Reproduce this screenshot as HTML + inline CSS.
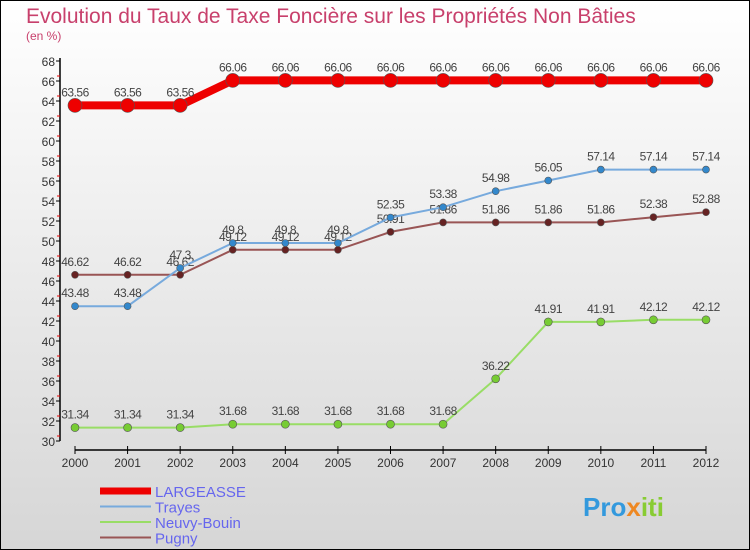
<!DOCTYPE html>
<html><head><meta charset="utf-8"><style>
body{margin:0;width:750px;height:550px;overflow:hidden;font-family:"Liberation Sans",sans-serif}
svg{display:block}
</style></head><body>
<svg width="750" height="550" id="chart">
<defs><linearGradient id="bg" x1="0" y1="0" x2="0" y2="1"><stop offset="0" stop-color="#ffffff"/><stop offset="1" stop-color="#d6d6d6"/></linearGradient></defs>
<rect x="0.5" y="0.5" width="749" height="549" fill="url(#bg)" stroke="#000"/>
<text x="26" y="23" font-size="21" fill="#c8406c">Evolution du Taux de Taxe Foncière sur les Propriétés Non Bâties</text>
<text x="26" y="40" font-size="12" fill="#c8406c">(en %)</text>
<g id="axes"></g><g id="series"></g><g id="legend"></g>
<text x="583" y="516" font-size="26" font-weight="bold" fill="#3399dd">Pro<tspan fill="#ee8822">x</tspan><tspan fill="#88cc33">iti</tspan></text>
</svg>
<script>
const years=[2000,2001,2002,2003,2004,2005,2006,2007,2008,2009,2010,2011,2012];
const largeasse=[63.56,63.56,63.56,66.06,66.06,66.06,66.06,66.06,66.06,66.06,66.06,66.06,66.06];
const trayes=[43.48,43.48,47.3,49.8,49.8,49.8,52.35,53.38,54.98,56.05,57.14,57.14,57.14];
const neuvy=[31.34,31.34,31.34,31.68,31.68,31.68,31.68,31.68,36.22,41.91,41.91,42.12,42.12];
const pugny=[46.62,46.62,46.62,49.12,49.12,49.12,50.91,51.86,51.86,51.86,51.86,52.38,52.88];
const yTicks=[30,32,34,36,38,40,42,44,46,48,50,52,54,56,58,60,62,64,66,68];
const NS="http://www.w3.org/2000/svg";
const xS=i=>75+i*(706-75)/(years.length-1);
const yS=v=>441-(v-30)*(441-61)/38;
function mk(t,a,p){const e=document.createElementNS(NS,t);for(const k in a)e.setAttribute(k,a[k]);p.appendChild(e);return e;}
const ax=document.getElementById('axes');
let l=mk('line',{x1:60,y1:58,x2:60,y2:441,stroke:'#000','stroke-width':1.5},ax);


l=mk('line',{x1:75,y1:450,x2:706,y2:450,stroke:'#000','stroke-width':1.5},ax);


yTicks.forEach(v=>{const y=yS(v);
 mk('line',{x1:56,y1:y,x2:60,y2:y,stroke:'#000'},ax);
 if(v<68)mk('line',{x1:57,y1:y-5,x2:60,y2:y-5,stroke:'#e00'},ax);
 const t=mk('text',{x:55,y:y+5,'text-anchor':'end','font-size':12,fill:'#333'},ax);t.textContent=v;
 
 });
years.forEach((yr,i)=>{const x=xS(i);
 mk('line',{x1:x,y1:446,x2:x,y2:454,stroke:'#000'},ax);
 const t=mk('text',{x:x,y:467,'text-anchor':'middle','font-size':12,fill:'#333'},ax);t.textContent=yr;
 
 });
const S=document.getElementById('series');
const sNeuvy={name:'Neuvy-Bouin',d:neuvy,c:'#99dd66',pc:'#77cc33',w:2,r:4};
const sPugny={name:'Pugny',d:pugny,c:'#995555',pc:'#662222',w:2,r:3.5};
const sTrayes={name:'Trayes',d:trayes,c:'#77aadd',pc:'#3388cc',w:2,r:3.5};
const sLarg={name:'LARGEASSE',d:largeasse,c:'#ee0000',pc:'#ee0000',w:8,r:7};
const series=[sNeuvy,sPugny,sTrayes,sLarg];
series.forEach(s=>{const g=mk('g',{},S);
 
 
 const p=mk('polyline',{points:s.d.map((v,i)=>xS(i)+','+yS(v)).join(' '),fill:'none',stroke:s.c,'stroke-width':s.w},g);
 
 
 s.d.forEach((v,i)=>{const c=mk('circle',{cx:xS(i),cy:yS(v),r:s.r,fill:s.pc,stroke:'#555','stroke-width':0.6},g);
  
  
  const t=mk('text',{x:xS(i),y:yS(v)-9,'text-anchor':'middle','font-size':12,fill:'#444','letter-spacing':'-0.5'},g);t.textContent=v;
  
  });});
const L=document.getElementById('legend');
[sLarg,sTrayes,sNeuvy,sPugny].forEach((s,i)=>{const y=491+i*15.5;
 const g=mk('g',{},L);
 
 
 mk('line',{x1:100,y1:y,x2:151,y2:y,stroke:s.c,'stroke-width':s.w===8?7:2},g);
 const t=mk('text',{x:155,y:y+6,'font-size':15,fill:'#6666ee'},g);t.textContent=s.name;});
</script>
</body></html>
